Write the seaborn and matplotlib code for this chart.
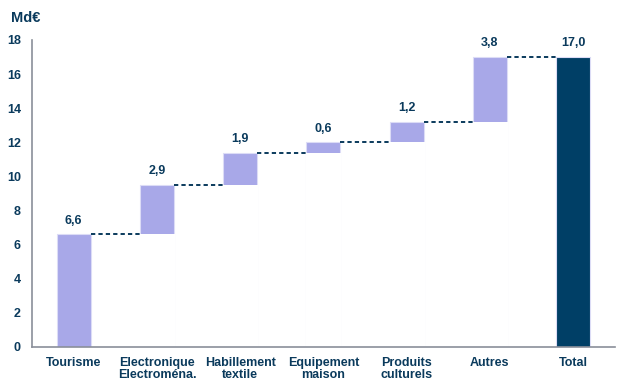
import numpy as np
import pandas as pd
import matplotlib
matplotlib.use("Agg")
import matplotlib.pyplot as plt
import seaborn as sns

categories = ["Tourisme", "Electronique\nElectroména.", "Habillement\ntextile",
              "Equipement\nmaison", "Produits\nculturels", "Autres", "Total"]
steps = [6.6, 2.9, 1.9, 0.6, 1.2, 3.8]
total = 17.0
labels = ["6,6", "2,9", "1,9", "0,6", "1,2", "3,8", "17,0"]

navy = "#0A3A5C"
lilac = "#A8A8E8"
dark = "#003F66"

tops = list(np.cumsum(steps)) + [total]
bases = [0] + list(np.cumsum(steps)[:-1]) + [0]
df = pd.DataFrame({"cat": categories, "top": tops, "base": bases})

sns.set_style("white")
plt.rcParams["font.family"] = ["Liberation Sans", "DejaVu Sans"]
plt.rcParams["font.weight"] = "bold"

fig = plt.figure(figsize=(6.28, 3.92), dpi=100)
ax = fig.add_axes([0.051, 0.115, 0.928, 0.783])

pal = [lilac] * 6 + [dark]
sns.barplot(data=df, x="cat", y="top", hue="cat", palette=pal, legend=False,
            saturation=1, width=0.41, edgecolor="#DCDCF6", linewidth=0.8,
            ax=ax, zorder=1)
# mask the lower part so floating bars remain
sns.barplot(data=df, x="cat", y="base", color="white", saturation=1, width=0.43,
            linewidth=0, ax=ax, zorder=1.5)

w = 0.41
for i in range(len(categories)):
    ax.text(i, tops[i] + 0.45, labels[i], ha="center", va="bottom",
            fontsize=9, fontweight="bold", color=navy, zorder=4)
    if i < len(categories) - 1:
        ax.plot([i + w / 2, i + 1 - w / 2], [tops[i], tops[i]], ls=(0, (2.2, 1.6)),
                color=navy, lw=1.4, zorder=4)

ax.set_ylim(0, 18)
ax.set_xlim(-0.5, len(categories) - 0.5)
ax.set_yticks(range(0, 19, 2))
ax.set_xlabel("")
ax.set_ylabel("")
ax.set_xticks(range(len(categories)))
ax.set_xticklabels(categories, fontsize=9, fontweight="bold", color=navy,
                   linespacing=1.05)
ax.set_xticks(np.arange(-0.5, len(categories), 1), minor=True)
ax.tick_params(axis="x", which="major", length=0, pad=7)
ax.tick_params(axis="x", which="minor", length=4, width=1, color="#8A8F99", direction="out")
ax.tick_params(axis="y", length=4, width=1, color="#8A8F99", direction="out",
               labelsize=9, labelcolor=navy, pad=4)
for t in ax.get_yticklabels():
    t.set_fontweight("bold")

sns.despine(ax=ax, top=True, right=True)
for s in ["left", "bottom"]:
    ax.spines[s].set_color("#8A8F99")
    ax.spines[s].set_linewidth(1.2)
    ax.spines[s].set_zorder(3)

fig.text(0.018, 0.955, "Md€", fontsize=10.5, fontweight="bold", color=navy,
         va="center", ha="left")

fig.savefig("out.png", dpi=100)
